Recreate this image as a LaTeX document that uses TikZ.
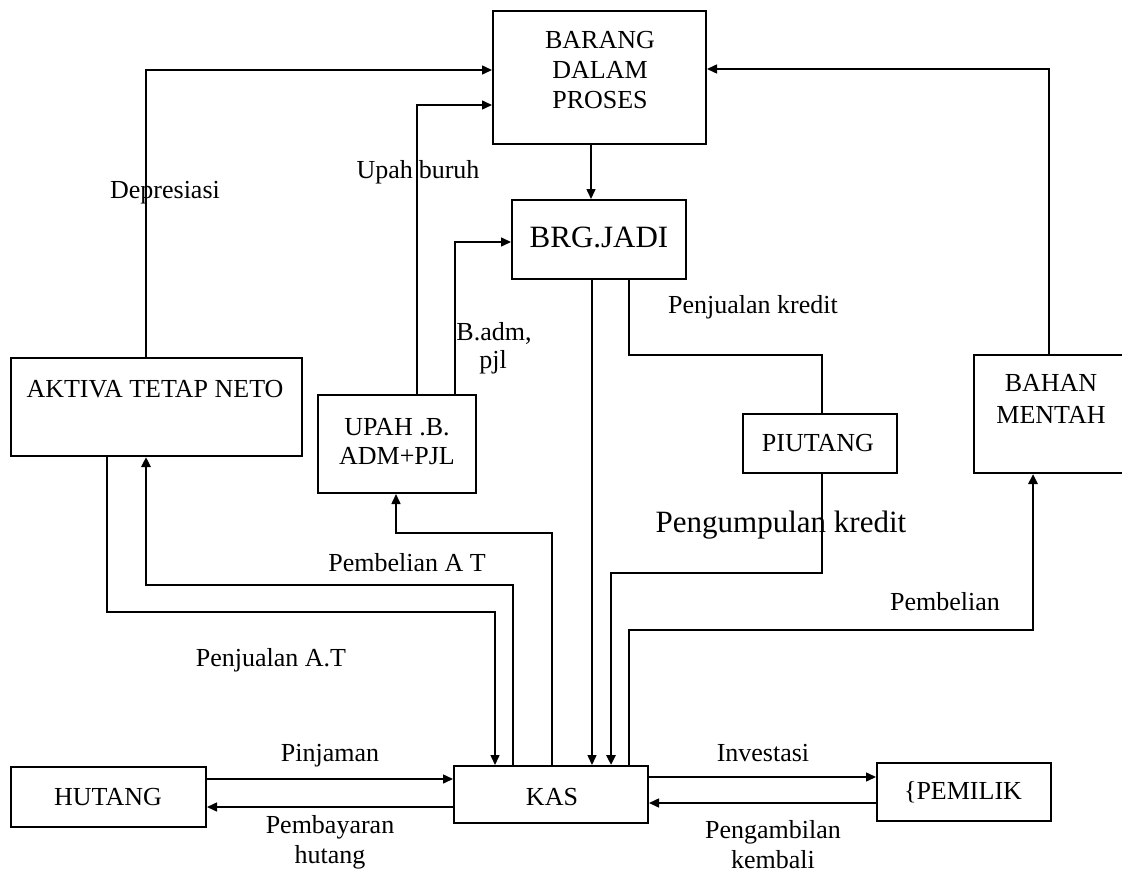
\documentclass[tikz,border=0pt]{standalone}
\usepackage{fontspec}
\setmainfont{Liberation Serif}
\usetikzlibrary{arrows.meta}
\begin{document}
\begin{tikzpicture}[x=1pt,y=-1pt,
  box/.style={draw, line width=2pt, inner sep=0pt},
  txt/.style={inner sep=0pt, align=center, font=\fontsize{26}{30}\selectfont},
  bigtxt/.style={inner sep=0pt, align=center, font=\fontsize{31}{35}\selectfont},
  flow/.style={line width=1.5pt, -{Triangle[length=10pt,width=9pt]}},
  thickflow/.style={line width=2.6pt, -{Triangle[length=10pt,width=9pt]}},
  plainline/.style={line width=2.8pt}]
\useasboundingbox (0,0) rectangle (1122,888);
\fill[white] (0,0) rectangle (1122,888);

% boxes
\node[box, minimum width=213pt, minimum height=133pt] (bdp) at (599.5,77.5) {};
\node[txt] (bdpt) at (600,70) {BARANG\\DALAM\\PROSES};
\node[box, minimum width=174pt, minimum height=79pt] (bj) at (599,239.5) {};
\node[bigtxt] (bjt) at (599,237) {BRG.JADI};
\node[box, minimum width=291pt, minimum height=98pt] (akt) at (156.5,407) {};
\node[txt] (aktt) at (155,389) {AKTIVA TETAP NETO};
\node[box, minimum width=158pt, minimum height=98pt] (upah) at (397,444) {};
\node[txt, font=\fontsize{26}{29}\selectfont] (upaht) at (397,442) {UPAH .B.\\ADM+PJL};
\node[box, minimum width=154pt, minimum height=59pt] (piu) at (820,443.5) {};
\node[txt] (piut) at (818,443) {PIUTANG};
\node[box, minimum width=154pt, minimum height=118pt] (bm) at (1051,414) {};
\node[txt, font=\fontsize{26}{32}\selectfont] (bmt) at (1051,399) {BAHAN\\MENTAH};
\node[box, minimum width=195pt, minimum height=60pt] (hut) at (108.5,797) {};
\node[txt] (hutt) at (108,797) {HUTANG};
\node[box, minimum width=194pt, minimum height=57pt] (kas) at (551,794.5) {};
\node[txt] (kast) at (552,797) {KAS};
\node[box, minimum width=174pt, minimum height=58pt] (pem) at (964,792) {};
\node[txt] (pemt) at (963,792) {\{PEMILIK};

% helper coordinates
\coordinate (dep) at (146,70);
\coordinate (ub) at (417,105);
\coordinate (ba) at (455,242);
\coordinate (bb) at (591,0);
\coordinate (bmx) at (1049,69);
\coordinate (bjk) at (592,0);
\coordinate (pk1) at (629,355);
\coordinate (pk2) at (822,355);
\coordinate (pg1) at (822,573);
\coordinate (pg2) at (611,573);
\coordinate (pb1) at (629,630);
\coordinate (pb2) at (1033,630);
\coordinate (pu1) at (552,533);
\coordinate (pu2) at (396,533);
\coordinate (pa1) at (513,585);
\coordinate (pa2) at (146,585);
\coordinate (ja1) at (107,612);
\coordinate (ja2) at (495,612);
\coordinate (pin) at (0,779);
\coordinate (bay) at (0,807);
\coordinate (inv) at (0,777);
\coordinate (amb) at (0,803);

% connectors
\draw[flow] (akt.north -| dep) -- (dep) -- (bdp.west |- dep);
\draw[flow] (upah.north -| ub) -- (ub) -- (bdp.west |- ub);
\draw[flow] (upah.north -| ba) -- (ba) -- (bj.west |- ba);
\draw[flow] (bdp.south -| bb) -- (bj.north -| bb);
\draw[flow] (bm.north -| bmx) -- (bmx) -- (bdp.east |- bmx);
\draw[flow] (bj.south -| bjk) -- (kas.north -| bjk);
\draw[plainline] (bj.south -| pk1) -- (pk1) -- (pk2) -- (piu.north -| pk2);
\draw[thickflow] (piu.south -| pg1) -- (pg1) -- (pg2) -- (kas.north -| pg2);
\draw[thickflow] (kas.north -| pb1) -- (pb1) -- (pb2) -- (bm.south -| pb2);
\draw[flow] (kas.north -| pu1) -- (pu1) -- (pu2) -- (upah.south -| pu2);
\draw[thickflow] (kas.north -| pa1) -- (pa1) -- (pa2) -- (akt.south -| pa2);
\draw[flow] (akt.south -| ja1) -- (ja1) -- (ja2) -- (kas.north -| ja2);
\draw[flow] (hut.east |- pin) -- (kas.west |- pin);
\draw[flow] (kas.west |- bay) -- (hut.east |- bay);
\draw[flow] (kas.east |- inv) -- (pem.west |- inv);
\draw[flow] (pem.west |- amb) -- (kas.east |- amb);

% labels
\node[txt] (l1) at (165,193) {Depresiasi};
\node[txt] (l2) at (418,172) {Upah\hspace{6pt}buruh};
\node[txt] (l3) at (494,333) {B.adm,};
\node[txt] (l4) at (493,362) {pjl};
\node[txt] (l5) at (753,307) {Penjualan kredit};
\node[txt] (l6) at (407,563) {Pembelian A T};
\node[txt] (l7) at (271,660) {Penjualan A.T};
\node[bigtxt] (l8) at (781,525) {Pengumpulan kredit};
\node[txt] (l9) at (945,602) {Pembelian};
\node[txt] (l10) at (330,756) {Pinjaman};
\node[txt] (l11) at (330,842) {Pembayaran\\hutang};
\node[txt] (l12) at (763,753) {Investasi};
\node[txt] (l13) at (773,845) {Pengambilan\\kembali};
\end{tikzpicture}
\end{document}
